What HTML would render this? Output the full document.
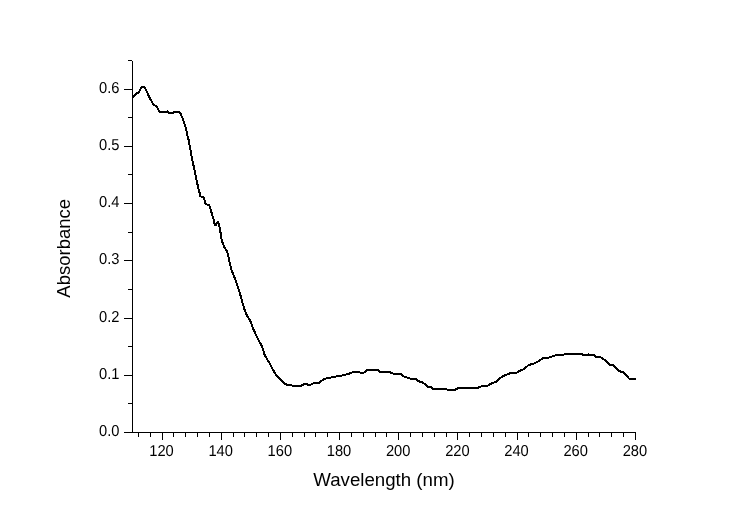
<!DOCTYPE html>
<html><head><meta charset="utf-8"><title>Absorbance</title>
<style>html,body{margin:0;padding:0;background:#fff}svg{display:block}text{font-family:"Liberation Sans",Arial,sans-serif;fill:#000}</style></head><body>
<svg width="738" height="518" viewBox="0 0 738 518">
<rect width="738" height="518" fill="#fff"/>
<g fill="#000" shape-rendering="crispEdges">
<rect x="132" y="61" width="1" height="372"/>
<rect x="132" y="432" width="504" height="1"/>
<rect x="124" y="432" width="8" height="1"/>
<rect x="128" y="403" width="4" height="1"/>
<rect x="124" y="375" width="8" height="1"/>
<rect x="128" y="346" width="4" height="1"/>
<rect x="124" y="318" width="8" height="1"/>
<rect x="128" y="289" width="4" height="1"/>
<rect x="124" y="260" width="8" height="1"/>
<rect x="128" y="232" width="4" height="1"/>
<rect x="124" y="203" width="8" height="1"/>
<rect x="128" y="174" width="4" height="1"/>
<rect x="124" y="146" width="8" height="1"/>
<rect x="128" y="117" width="4" height="1"/>
<rect x="124" y="89" width="8" height="1"/>
<rect x="128" y="60" width="4" height="1"/>
<rect x="138" y="432" width="1" height="5"/>
<rect x="150" y="432" width="1" height="5"/>
<rect x="162" y="432" width="1" height="8"/>
<rect x="173" y="432" width="1" height="5"/>
<rect x="185" y="432" width="1" height="5"/>
<rect x="197" y="432" width="1" height="5"/>
<rect x="209" y="432" width="1" height="5"/>
<rect x="221" y="432" width="1" height="8"/>
<rect x="233" y="432" width="1" height="5"/>
<rect x="244" y="432" width="1" height="5"/>
<rect x="256" y="432" width="1" height="5"/>
<rect x="268" y="432" width="1" height="5"/>
<rect x="280" y="432" width="1" height="8"/>
<rect x="292" y="432" width="1" height="5"/>
<rect x="304" y="432" width="1" height="5"/>
<rect x="315" y="432" width="1" height="5"/>
<rect x="327" y="432" width="1" height="5"/>
<rect x="339" y="432" width="1" height="8"/>
<rect x="351" y="432" width="1" height="5"/>
<rect x="363" y="432" width="1" height="5"/>
<rect x="375" y="432" width="1" height="5"/>
<rect x="386" y="432" width="1" height="5"/>
<rect x="398" y="432" width="1" height="8"/>
<rect x="410" y="432" width="1" height="5"/>
<rect x="422" y="432" width="1" height="5"/>
<rect x="434" y="432" width="1" height="5"/>
<rect x="446" y="432" width="1" height="5"/>
<rect x="457" y="432" width="1" height="8"/>
<rect x="469" y="432" width="1" height="5"/>
<rect x="481" y="432" width="1" height="5"/>
<rect x="493" y="432" width="1" height="5"/>
<rect x="505" y="432" width="1" height="5"/>
<rect x="517" y="432" width="1" height="8"/>
<rect x="528" y="432" width="1" height="5"/>
<rect x="540" y="432" width="1" height="5"/>
<rect x="552" y="432" width="1" height="5"/>
<rect x="564" y="432" width="1" height="5"/>
<rect x="576" y="432" width="1" height="8"/>
<rect x="588" y="432" width="1" height="5"/>
<rect x="599" y="432" width="1" height="5"/>
<rect x="611" y="432" width="1" height="5"/>
<rect x="623" y="432" width="1" height="5"/>
<rect x="635" y="432" width="1" height="8"/>
<rect x="167" y="110" width="1" height="1"/><rect x="588" y="353" width="1" height="1"/>
</g>
<g font-size="14.7" text-anchor="end" text-rendering="geometricPrecision">
<text transform="translate(119.4,435.7) scale(1,1.075)">0.0</text>
<text transform="translate(119.4,378.7) scale(1,1.075)">0.1</text>
<text transform="translate(119.4,321.7) scale(1,1.075)">0.2</text>
<text transform="translate(119.4,263.7) scale(1,1.075)">0.3</text>
<text transform="translate(119.4,206.7) scale(1,1.075)">0.4</text>
<text transform="translate(119.4,149.7) scale(1,1.075)">0.5</text>
<text transform="translate(119.4,92.7) scale(1,1.075)">0.6</text>
</g>
<g font-size="14.7" text-anchor="middle" text-rendering="geometricPrecision">
<text transform="translate(161.5,455.8) scale(1,1.075)">120</text>
<text transform="translate(220.7,455.8) scale(1,1.075)">140</text>
<text transform="translate(279.8,455.8) scale(1,1.075)">160</text>
<text transform="translate(339.0,455.8) scale(1,1.075)">180</text>
<text transform="translate(398.2,455.8) scale(1,1.075)">200</text>
<text transform="translate(457.4,455.8) scale(1,1.075)">220</text>
<text transform="translate(516.5,455.8) scale(1,1.075)">240</text>
<text transform="translate(575.7,455.8) scale(1,1.075)">260</text>
<text transform="translate(634.9,455.8) scale(1,1.075)">280</text>
</g>
<text x="384" y="485.6" font-size="18.67" text-anchor="middle">Wavelength (nm)</text>
<text transform="translate(70.4,248.3) rotate(-90)" font-size="18.5" text-anchor="middle">Absorbance</text>
<polyline points="132.5,97.6 136.1,93.7 138.8,92.4 140.8,88.3 142.2,86.9 144.6,87.2 146.3,90.3 148.3,95.1 150.3,99.1 153.0,103.9 155.1,105.5 157.1,106.9 159.1,111.3 160.5,112.0 167.3,111.7 168.6,112.8 173.6,112.8 174.2,112.0 179.5,112.0 180.8,114.0 182.8,118.8 184.9,124.9 186.2,129.6 187.6,136.4 188.5,139.5 190.5,150.3 192.5,161.2 195.0,172.0 197.3,183.5 198.8,190.0 199.6,193.0 200.0,196.4 203.4,197.0 204.5,200.0 205.5,204.2 208.5,204.8 209.9,206.5 210.7,210.1 212.1,214.4 213.2,217.9 214.9,225.2 216.2,225.0 216.8,222.8 217.9,222.0 219.0,223.9 220.7,233.4 221.0,236.9 222.2,241.8 224.2,247.0 227.1,251.5 228.3,255.6 229.5,262.1 230.7,267.0 231.7,270.3 235.7,280.5 239.1,290.7 241.8,300.1 244.0,308.0 245.2,311.3 246.8,315.1 249.0,318.8 251.1,322.6 253.3,329.0 258.0,339.1 262.1,346.6 264.8,355.4 270.2,364.2 273.4,370.5 276.8,375.9 281.5,380.7 285.6,384.4 291.0,385.0 293.7,386.1 300.5,386.1 304.6,384.0 306.6,383.8 308.6,385.0 310.7,384.7 314.0,383.1 318.8,382.8 323.5,379.3 328.3,377.7 333.0,377.3 336.4,376.3 339.8,376.3 343.2,375.0 347.9,374.1 352.0,372.5 358.8,371.8 360.8,372.8 364.2,372.5 366.8,370.1 378.3,370.1 380.3,372.1 389.8,372.1 393.9,373.9 400.7,373.9 404.0,376.6 410.1,378.6 416.2,379.3 418.9,381.3 423.0,382.7 427.8,386.7 431.1,387.4 433.2,388.8 446.0,388.8 447.4,389.9 454.7,389.9 458.8,387.8 477.8,387.8 481.8,386.1 487.3,385.8 492.0,383.1 496.1,381.7 500.1,377.9 505.6,375.0 511.0,372.9 517.1,372.5 520.5,370.5 523.8,369.1 528.6,365.1 534.7,363.3 540.1,360.3 543.4,357.9 548.8,357.7 555.6,355.2 563.7,354.8 565.1,353.9 582.0,353.9 583.4,355.0 594.2,355.0 596.2,356.9 600.3,357.1 605.7,360.7 609.8,364.7 613.2,365.4 619.3,371.2 623.3,372.2 629.4,378.9 635.9,379.2" fill="none" stroke="#000" stroke-width="2" stroke-linejoin="round" stroke-linecap="butt" shape-rendering="crispEdges"/>
</svg></body></html>
